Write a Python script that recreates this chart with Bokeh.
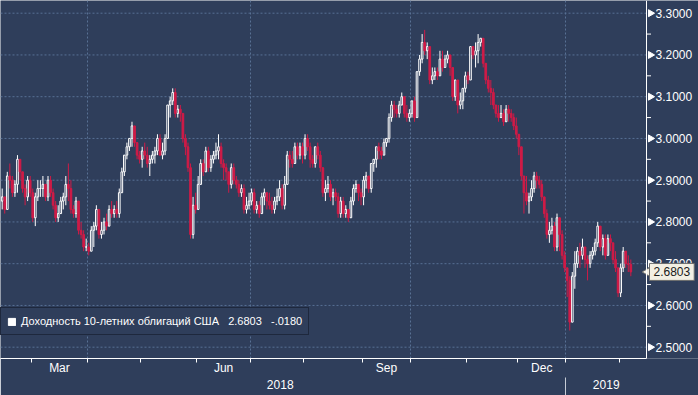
import math
from bokeh.plotting import figure
from bokeh.models import (Range1d, FixedTicker, LinearAxis, Span,
                          Legend, LegendItem, Label, ColumnDataSource)
from bokeh.core.properties import value
from bokeh.embed import file_html
from bokeh.resources import INLINE

# ---------------- data: US 10Y yield, daily candles (trading days) ----------------
first_open = 2.85

c_2018_02 = [2.86, 2.83, 2.91, 2.90, 2.87, 2.89, 2.95, 2.92, 2.88, 2.86, 2.90, 2.87]
h_2018_02 = [2.88, 2.86, 2.92, 2.94, 2.91, 2.90, 2.96, 2.95, 2.92, 2.89, 2.91, 2.91]
l_2018_02 = [2.83, 2.82, 2.83, 2.88, 2.86, 2.86, 2.87, 2.90, 2.87, 2.84, 2.85, 2.86]

c_2018_03 = [2.81, 2.86, 2.88, 2.88, 2.89, 2.86, 2.90, 2.87, 2.84, 2.81, 2.82, 2.85, 2.86, 2.89, 2.88, 2.83, 2.82, 2.85, 2.78, 2.77, 2.74, 2.74]
h_2018_03 = [2.88, 2.87, 2.90, 2.90, 2.91, 2.89, 2.91, 2.91, 2.88, 2.85, 2.84, 2.86, 2.87, 2.91, 2.94, 2.90, 2.84, 2.86, 2.85, 2.80, 2.78, 2.76]
l_2018_03 = [2.80, 2.79, 2.85, 2.86, 2.86, 2.85, 2.85, 2.86, 2.83, 2.80, 2.80, 2.82, 2.83, 2.84, 2.85, 2.82, 2.81, 2.81, 2.77, 2.76, 2.73, 2.73]

c_2018_04 = [2.73, 2.78, 2.79, 2.83, 2.77, 2.78, 2.80, 2.79, 2.83, 2.82, 2.83, 2.82, 2.87, 2.92, 2.96, 2.98, 3.00, 3.03, 2.99, 2.96, 2.95]
h_2018_04 = [2.75, 2.79, 2.80, 2.84, 2.83, 2.80, 2.81, 2.82, 2.84, 2.85, 2.84, 2.85, 2.88, 2.93, 2.96, 2.99, 3.00, 3.04, 3.03, 2.99, 2.97]
l_2018_04 = [2.72, 2.73, 2.74, 2.78, 2.76, 2.76, 2.77, 2.78, 2.79, 2.81, 2.81, 2.81, 2.81, 2.87, 2.91, 2.95, 2.97, 2.98, 2.98, 2.95, 2.94]

c_2018_05 = [2.97, 2.96, 2.94, 2.95, 2.96, 2.97, 3.00, 2.96, 2.97, 3.00, 3.08, 3.09, 3.11, 3.06, 3.07, 3.06, 3.00, 2.98, 2.93, 2.77, 2.84, 2.83]
h_2018_05 = [2.98, 2.99, 2.98, 2.96, 2.97, 2.98, 3.01, 3.01, 2.99, 3.01, 3.08, 3.10, 3.12, 3.12, 3.08, 3.08, 3.06, 3.01, 2.99, 2.94, 2.86, 2.87]
l_2018_05 = [2.93, 2.95, 2.93, 2.91, 2.94, 2.94, 2.96, 2.96, 2.95, 2.96, 3.00, 3.05, 3.08, 3.05, 3.05, 3.04, 2.99, 2.96, 2.92, 2.76, 2.76, 2.82]

c_2018_06 = [2.89, 2.94, 2.92, 2.97, 2.93, 2.95, 2.96, 2.97, 2.98, 2.94, 2.93, 2.92, 2.89, 2.93, 2.90, 2.89, 2.87, 2.88, 2.83, 2.84, 2.85]
h_2018_06 = [2.91, 2.95, 2.95, 2.98, 2.98, 2.96, 2.97, 2.99, 3.01, 2.99, 2.95, 2.94, 2.92, 2.94, 2.94, 2.91, 2.90, 2.89, 2.89, 2.86, 2.87]
l_2018_06 = [2.83, 2.89, 2.91, 2.92, 2.92, 2.92, 2.94, 2.95, 2.95, 2.93, 2.90, 2.90, 2.87, 2.88, 2.89, 2.88, 2.86, 2.86, 2.82, 2.82, 2.83]

c_2018_07 = [2.87, 2.83, 2.84, 2.82, 2.86, 2.87, 2.85, 2.84, 2.83, 2.85, 2.86, 2.88, 2.84, 2.89, 2.96, 2.95, 2.94, 2.98, 2.96, 2.98, 2.96]
h_2018_07 = [2.88, 2.88, 2.85, 2.85, 2.87, 2.88, 2.87, 2.87, 2.86, 2.86, 2.88, 2.90, 2.89, 2.91, 2.97, 2.97, 2.97, 2.99, 2.99, 2.99, 2.99]
l_2018_07 = [2.84, 2.82, 2.82, 2.81, 2.82, 2.84, 2.83, 2.83, 2.82, 2.82, 2.84, 2.85, 2.83, 2.83, 2.89, 2.93, 2.93, 2.94, 2.95, 2.95, 2.94]

c_2018_08 = [3.00, 2.98, 2.95, 2.94, 2.98, 2.96, 2.93, 2.87, 2.88, 2.89, 2.86, 2.87, 2.86, 2.82, 2.85, 2.82, 2.83, 2.81, 2.85, 2.88, 2.89, 2.87, 2.86]
h_2018_08 = [3.01, 3.01, 2.99, 2.96, 2.98, 2.99, 2.97, 2.93, 2.90, 2.91, 2.90, 2.88, 2.88, 2.87, 2.86, 2.86, 2.84, 2.83, 2.86, 2.89, 2.90, 2.89, 2.88]
l_2018_08 = [2.95, 2.97, 2.93, 2.93, 2.93, 2.95, 2.92, 2.86, 2.85, 2.87, 2.85, 2.84, 2.85, 2.81, 2.81, 2.81, 2.81, 2.80, 2.81, 2.84, 2.87, 2.85, 2.84]

c_2018_09 = [2.90, 2.91, 2.88, 2.94, 2.95, 2.98, 2.97, 2.96, 2.99, 3.00, 3.05, 3.08, 3.07, 3.06, 3.08, 3.10, 3.06, 3.05, 3.06]
h_2018_09 = [2.91, 2.92, 2.91, 2.94, 2.95, 2.98, 2.99, 2.98, 3.00, 3.00, 3.06, 3.09, 3.09, 3.08, 3.09, 3.11, 3.10, 3.08, 3.07]
l_2018_09 = [2.84, 2.88, 2.87, 2.87, 2.92, 2.93, 2.95, 2.95, 2.96, 2.98, 2.99, 3.04, 3.05, 3.05, 3.05, 3.08, 3.05, 3.04, 3.04]

c_2018_10 = [3.09, 3.05, 3.16, 3.19, 3.23, 3.21, 3.22, 3.14, 3.15, 3.16, 3.15, 3.19, 3.17, 3.19, 3.20, 3.17, 3.10, 3.14, 3.08, 3.09, 3.12, 3.15]
h_2018_10 = [3.09, 3.10, 3.16, 3.20, 3.25, 3.26, 3.23, 3.22, 3.17, 3.17, 3.17, 3.21, 3.21, 3.20, 3.21, 3.20, 3.17, 3.14, 3.14, 3.11, 3.12, 3.16]
l_2018_10 = [3.05, 3.04, 3.05, 3.15, 3.18, 3.20, 3.19, 3.13, 3.13, 3.14, 3.14, 3.15, 3.16, 3.17, 3.18, 3.15, 3.09, 3.09, 3.06, 3.07, 3.07, 3.11]

c_2018_11 = [3.14, 3.22, 3.20, 3.21, 3.23, 3.24, 3.18, 3.14, 3.12, 3.11, 3.08, 3.06, 3.05, 3.06, 3.04, 3.07, 3.06, 3.05, 3.03, 3.01]
h_2018_11 = [3.16, 3.22, 3.22, 3.23, 3.25, 3.24, 3.24, 3.18, 3.15, 3.14, 3.12, 3.08, 3.08, 3.08, 3.07, 3.08, 3.08, 3.07, 3.06, 3.05]
l_2018_11 = [3.13, 3.14, 3.19, 3.17, 3.18, 3.22, 3.17, 3.13, 3.11, 3.08, 3.07, 3.05, 3.04, 3.05, 3.03, 3.04, 3.04, 3.04, 3.02, 3.00]

c_2018_12 = [2.98, 2.91, 2.87, 2.85, 2.86, 2.88, 2.91, 2.90, 2.89, 2.86, 2.82, 2.77, 2.78, 2.79, 2.74, 2.81, 2.77, 2.72, 2.69]
h_2018_12 = [3.01, 2.98, 2.91, 2.91, 2.87, 2.90, 2.92, 2.92, 2.91, 2.90, 2.86, 2.83, 2.80, 2.81, 2.80, 2.82, 2.81, 2.78, 2.73]
l_2018_12 = [2.96, 2.90, 2.82, 2.84, 2.82, 2.85, 2.87, 2.88, 2.88, 2.85, 2.81, 2.76, 2.75, 2.77, 2.73, 2.73, 2.73, 2.71, 2.68]

c_2019_01 = [2.66, 2.56, 2.67, 2.70, 2.73, 2.72, 2.74, 2.71, 2.70, 2.72, 2.73, 2.75, 2.79, 2.74, 2.76, 2.72, 2.76, 2.75, 2.71, 2.69, 2.63]
h_2019_01 = [2.69, 2.67, 2.68, 2.73, 2.74, 2.75, 2.76, 2.74, 2.72, 2.73, 2.74, 2.76, 2.80, 2.79, 2.77, 2.77, 2.77, 2.77, 2.75, 2.73, 2.69]
l_2019_01 = [2.62, 2.54, 2.56, 2.64, 2.69, 2.69, 2.71, 2.69, 2.66, 2.69, 2.71, 2.72, 2.74, 2.73, 2.72, 2.71, 2.72, 2.73, 2.70, 2.68, 2.62]

c_2019_02 = [2.69, 2.73, 2.70, 2.6983, 2.6803]
h_2019_02 = [2.70, 2.74, 2.73, 2.72, 2.71]
l_2019_02 = [2.62, 2.68, 2.69, 2.68, 2.67]

month_names = ["Feb", "Mar", "Apr", "May", "Jun", "Jul", "Aug", "Sep", "Oct", "Nov", "Dec", "Jan", "Feb"]
month_years = [2018] * 11 + [2019] * 2
labelled_months = ["Mar", "Jun", "Sep", "Dec"]
grid_months = ["Apr", "Jul", "Oct", "Jan"]

y_ticks = [2.5, 2.6, 2.7, 2.8, 2.9, 3.0, 3.1, 3.2, 3.3]
y_minor_ticks = [2.55, 2.65, 2.75, 2.85, 2.95, 3.05, 3.15, 3.25]

series_name = "Доходность 10-летних облигаций США"

# ---------------- assemble ----------------
month_c = [c_2018_02, c_2018_03, c_2018_04, c_2018_05, c_2018_06, c_2018_07, c_2018_08,
           c_2018_09, c_2018_10, c_2018_11, c_2018_12, c_2019_01, c_2019_02]
month_h = [h_2018_02, h_2018_03, h_2018_04, h_2018_05, h_2018_06, h_2018_07, h_2018_08,
           h_2018_09, h_2018_10, h_2018_11, h_2018_12, h_2019_01, h_2019_02]
month_l = [l_2018_02, l_2018_03, l_2018_04, l_2018_05, l_2018_06, l_2018_07, l_2018_08,
           l_2018_09, l_2018_10, l_2018_11, l_2018_12, l_2019_01, l_2019_02]

close, high, low = [], [], []
starts = []
for c, h, l in zip(month_c, month_h, month_l):
    starts.append(len(close))
    close += c
    high += h
    low += l
n = len(close)
opn = [first_open] + close[:-1]
xs = list(range(n))

bounds = [s - 0.5 for s in starts]
ends = [s - 0.5 for s in starts[1:]] + [n - 0.5]

# ---------------- styling / view ----------------
BG = "#2f3e5b"
GRID = "#587094"
RED = "#cf1b47"
FONT = "Liberation Sans"
W, H = 698, 395
FRAME_H = 358
PX = 2.545                       # pixels per trading day
X0 = 1.7                         # pixel position of day 0
X_LO, X_HI = (0 - X0) / PX, (W - X0) / PX
AXIS_X = (646 - X0) / PX         # value-axis line position (in days)
Y_LO, Y_HI = 2.4729, 3.3304


def px(d):
    return d / PX


def make_src(sel):
    return ColumnDataSource(dict(
        x=[xs[i] for i in sel],
        high=[high[i] for i in sel],
        low=[low[i] for i in sel],
        top=[max(opn[i], close[i]) for i in sel],
        bottom=[min(opn[i], close[i]) for i in sel],
    ))


up_idx = [i for i in range(n) if close[i] >= opn[i]]
dn_idx = [i for i in range(n) if close[i] < opn[i]]
up_src = make_src(up_idx)
dn_src = make_src(dn_idx)

p = figure(width=W, height=H, x_range=Range1d(X_LO, X_HI), y_range=Range1d(Y_LO, Y_HI),
           output_backend="svg", toolbar_location=None, y_axis_location=None,
           background_fill_color=BG, border_fill_color=BG,
           min_border_left=0, min_border_top=0, min_border_right=0, min_border_bottom=H - FRAME_H)
p.outline_line_color = None

# grid
p.ygrid.visible = False
p.segment(x0=[X_LO] * len(y_ticks), y0=y_ticks, x1=[AXIS_X] * len(y_ticks), y1=y_ticks,
          line_color=GRID, line_dash="2 2", line_width=1)
grid_pos = [bounds[i] for i, m in enumerate(month_names) if m in grid_months]
p.xgrid.ticker = FixedTicker(ticks=grid_pos)
p.xgrid.grid_line_color = GRID
p.xgrid.grid_line_dash = "2 2"

# candles
p.segment(x0="x", y0="low", x1="x", y1="high", source=up_src, line_color="white", line_width=1)
p.segment(x0="x", y0="low", x1="x", y1="high", source=dn_src, line_color=RED, line_width=1)
p.vbar(x="x", width=0.66, top="top", bottom="bottom", source=up_src,
       fill_color=BG, line_color="white", line_width=1)
p.vbar(x="x", width=0.66, top="top", bottom="bottom", source=dn_src,
       fill_color=RED, line_color=RED, line_width=1)

# right value axis (drawn in the frame so that the price tag can overlap it)
p.add_layout(Span(location=AXIS_X, dimension="height", line_color="white", line_width=1))
p.scatter(x=[AXIS_X + px(4)] * len(y_ticks), y=y_ticks, marker="triangle", size=7,
          angle=-math.pi / 2, fill_color="white", line_color="white")
p.scatter(x=[AXIS_X + px(2)] * len(y_minor_ticks), y=y_minor_ticks, marker="dash", size=5,
          line_color="white", line_width=1)
p.text(x=[AXIS_X + px(9)] * len(y_ticks), y=y_ticks, text=[f"{v:.4f}" for v in y_ticks],
       text_color="white", text_font=value(FONT), text_font_size="12px",
       text_baseline="middle", text_align="left")

# month axis
mid = {}
for i, m in enumerate(month_names):
    if m in labelled_months:
        mid[(bounds[i] + ends[i]) / 2] = m
xa = p.xaxis[0]
xa.ticker = FixedTicker(ticks=list(mid.keys()), minor_ticks=bounds[1:])
xa.major_label_overrides = mid
xa.bounds = (X_LO, AXIS_X)
xa.axis_line_color = "white"
xa.major_tick_out = 0
xa.major_tick_in = 0
xa.minor_tick_line_color = "white"
xa.minor_tick_out = 4
xa.minor_tick_in = 0
xa.major_label_standoff = -2
xa.major_label_text_color = "white"
xa.major_label_text_font = FONT
xa.major_label_text_font_size = "12px"

# year axis
jan_i = month_years.index(2019)
year_mid = {(X_LO + bounds[jan_i]) / 2 - px(3): "2018", (bounds[jan_i] + AXIS_X) / 2: "2019"}
yr = LinearAxis(ticker=FixedTicker(ticks=list(year_mid.keys()), minor_ticks=[bounds[jan_i]]),
                major_label_overrides=year_mid)
yr.axis_line_color = None
yr.major_tick_out = 0
yr.major_tick_in = 0
yr.minor_tick_line_color = "#c6ccd6"
yr.minor_tick_out = 19
yr.minor_tick_in = 0
yr.major_label_standoff = -17
yr.major_label_text_color = "white"
yr.major_label_text_font = FONT
yr.major_label_text_font_size = "12px"
p.add_layout(yr, "below")

# legend
last = close[-1]
chg = close[-1] - close[-2]
chg_txt = f"{chg:.4f}".replace("0.", ".")
nb = "\u00a0"
legend_text = f"{series_name}{nb*3}{last:.4f}{nb*3}{chg_txt}"
sq = p.quad(left=[math.nan], right=[math.nan], top=[math.nan], bottom=[math.nan],
            fill_color="white", line_color="white")
leg = Legend(items=[LegendItem(label=legend_text, renderers=[sq])], location=(0, 23))
leg.background_fill_color = BG
leg.background_fill_alpha = 1
leg.border_line_color = "#0d1220"
leg.border_line_width = 1
leg.padding = 6
leg.margin = 0
leg.glyph_width = 9
leg.glyph_height = 9
leg.label_standoff = 5
leg.label_height = 14
leg.label_text_color = "white"
leg.label_text_font = FONT
leg.label_text_font_size = "11px"
p.add_layout(leg)

# current value tag
TAG = "#f3efe3"
p.scatter(x=[AXIS_X + px(3)], y=[last], marker="triangle", size=13, angle=math.pi / 2,
          fill_color=TAG, line_color="#6b6b6b")
tag = Label(x=AXIS_X + px(3), y=last, x_units="data", y_units="data", text=f"{last:.4f}",
            text_baseline="middle", text_align="left", text_color="#1a1a1a",
            text_font=FONT, text_font_size="12px",
            background_fill_color=TAG, border_line_color="#6b6b6b", padding=4)
p.add_layout(tag)

open("out.html", "w").write(file_html(p, INLINE))
